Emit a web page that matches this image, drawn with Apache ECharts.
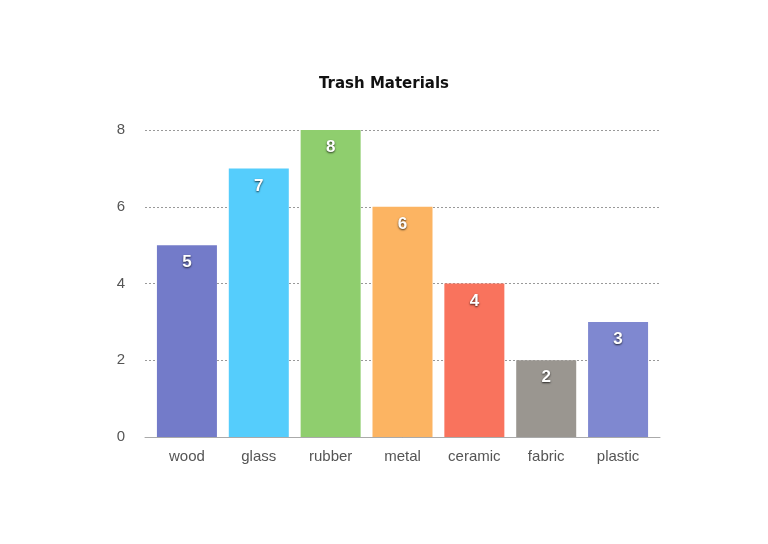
<!DOCTYPE html>
<html>
<head>
<meta charset="utf-8">
<script src="https://cdn.jsdelivr.net/npm/echarts@6/dist/echarts.min.js"></script>
<style>
  html, body { margin: 0; padding: 0; background: #fff; }
  #chart { width: 768px; height: 544px; }
</style>
</head>
<body>
<div id="chart"></div>
<script>
const materials = ['wood', 'glass', 'rubber', 'metal', 'ceramic', 'fabric', 'plastic'];
const counts = [5, 7, 8, 6, 4, 2, 3];
const barColors = ['#737bc9', '#55cdfc', '#8fce6e', '#fcb462', '#f9735d', '#9a9690', '#7f88d0'];
const yTicks = [0, 2, 4, 6, 8];

const labelFont = 'Helvetica, "Liberation Sans", sans-serif';
const myChart = echarts.init(document.getElementById('chart'));
myChart.setOption({
  backgroundColor: '#fff',
  animation: false,
  title: {
    text: 'Trash Materials',
    left: 'center',
    top: 72,
    textStyle: {
      fontFamily: '"Comic Sans MS", "DejaVu Sans", sans-serif',
      fontSize: 15,
      fontWeight: 'bold',
      color: '#111',
    },
  },
  // grid 0 carries the frame (grid lines reach a bit past the bars), grid 1 the bars
  grid: [
    { left: 145, right: 108, top: 130, bottom: 107 },
    { left: 151, right: 114, top: 130, bottom: 107 },
  ],
  xAxis: [
    {
      gridIndex: 0,
      type: 'category',
      data: materials,
      axisTick: { show: false },
      axisLabel: { show: false },
      axisLine: { lineStyle: { color: '#aaa', width: 1 } },
    },
    {
      gridIndex: 1,
      type: 'category',
      data: materials,
      axisTick: { show: false },
      axisLine: { show: false },
      axisLabel: { color: '#555', fontSize: 15, margin: 12, fontFamily: labelFont },
    },
  ],
  yAxis: [
    {
      gridIndex: 0,
      type: 'value',
      min: yTicks[0],
      max: yTicks[yTicks.length - 1],
      interval: 2,
      axisLine: { show: false },
      axisTick: { show: false },
      axisLabel: { color: '#555', fontSize: 15, margin: 20, fontFamily: labelFont },
      splitLine: { lineStyle: { color: '#999', type: [2, 2], width: 1 } },
    },
    {
      gridIndex: 1,
      type: 'value',
      min: yTicks[0],
      max: yTicks[yTicks.length - 1],
      interval: 2,
      axisLine: { show: false },
      axisTick: { show: false },
      axisLabel: { show: false },
      splitLine: { show: false },
    },
  ],
  series: [
    {
      type: 'bar',
      xAxisIndex: 1,
      yAxisIndex: 1,
      barWidth: 60,
      data: counts.map((v, i) => ({ value: v, itemStyle: { color: barColors[i] } })),
      label: {
        show: true,
        position: 'insideTop',
        distance: 9,
        color: '#fff',
        fontSize: 17,
        fontWeight: 'bold',
        fontFamily: labelFont,
        textShadowColor: 'rgba(0,0,0,0.75)',
        textShadowBlur: 2,
        textShadowOffsetY: 1,
      },
    },
  ],
});
</script>
</body>
</html>
